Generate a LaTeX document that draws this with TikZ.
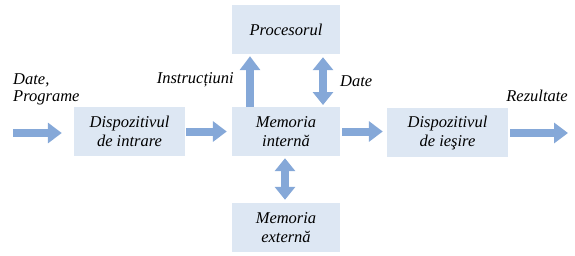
\documentclass[tikz,border=0pt]{standalone}
\usepackage{fontspec}
\setmainfont{Liberation Serif}
\usetikzlibrary{arrows.meta}
\definecolor{boxfill}{RGB}{221,231,243}
\definecolor{arrowc}{RGB}{133,168,216}
\begin{document}
\begin{tikzpicture}[x=1pt,y=-1pt,
  blk/.style={fill=boxfill,draw=none,minimum width=108pt,minimum height=49pt,inner sep=0pt,align=center,font=\fontsize{16.5}{19}\selectfont\itshape},
  lbl/.style={inner sep=0pt,font=\fontsize{16.5}{19}\selectfont\itshape},
  bigarrow/.style={draw=arrowc,line width=8pt,-{Triangle[width=20pt,length=14pt]}},
  bigdbl/.style={draw=arrowc,line width=8pt,{Triangle[width=20pt,length=13pt]}-{Triangle[width=20pt,length=13pt]}}]
\useasboundingbox (0,0) rectangle (575,255);
\node[blk] (proc) at (286,29.5) {Procesorul};
\node[blk] (mem) at (286,131.5) {Memoria\\internă};
\node[blk,minimum width=111pt] (in) at (129.5,131.5) {Dispozitivul\\de intrare};
\node[blk,minimum width=121pt] (out) at (447.5,132.5) {Dispozitivul\\de ieşire};
\node[blk] (ext) at (286,227.5) {Memoria\\externă};
\coordinate (src) at (13,133);
\coordinate (dst) at (568,133);
\draw[bigarrow,shorten >=12pt] (src) -- (src -| in.west);
\draw[bigarrow,shorten <=1pt,shorten >=5pt] (in.east) -- (mem.west);
\draw[bigarrow,shorten <=2pt,shorten >=4pt] (mem.east) -- (mem.east -| out.west);
\draw[bigarrow,shorten <=2pt] (out.east |- dst) -- (dst);
\draw[bigarrow,shorten >=2pt] (250,107) coordinate (u0) -- (u0 |- proc.south);
\draw[bigdbl,shorten <=2pt,shorten >=3pt] (323,107) coordinate (d0) -- (d0 |- proc.south);
\draw[bigdbl,shorten <=2pt,shorten >=3pt] (mem.south) ++(-1,0) coordinate (e0) -- (e0 |- ext.north);
\node[lbl,anchor=base east] (instr) at (234,83) {Instrucțiuni};
\node[lbl,anchor=base west] (date) at (340,86) {Date};
\node[lbl,anchor=base west] (dp1) at (13,84) {Date,};
\node[lbl,anchor=base west] (dp2) at (13,101) {Programe};
\node[lbl,anchor=base east] (rez) at (568,101) {Rezultate};
\end{tikzpicture}
\end{document}
